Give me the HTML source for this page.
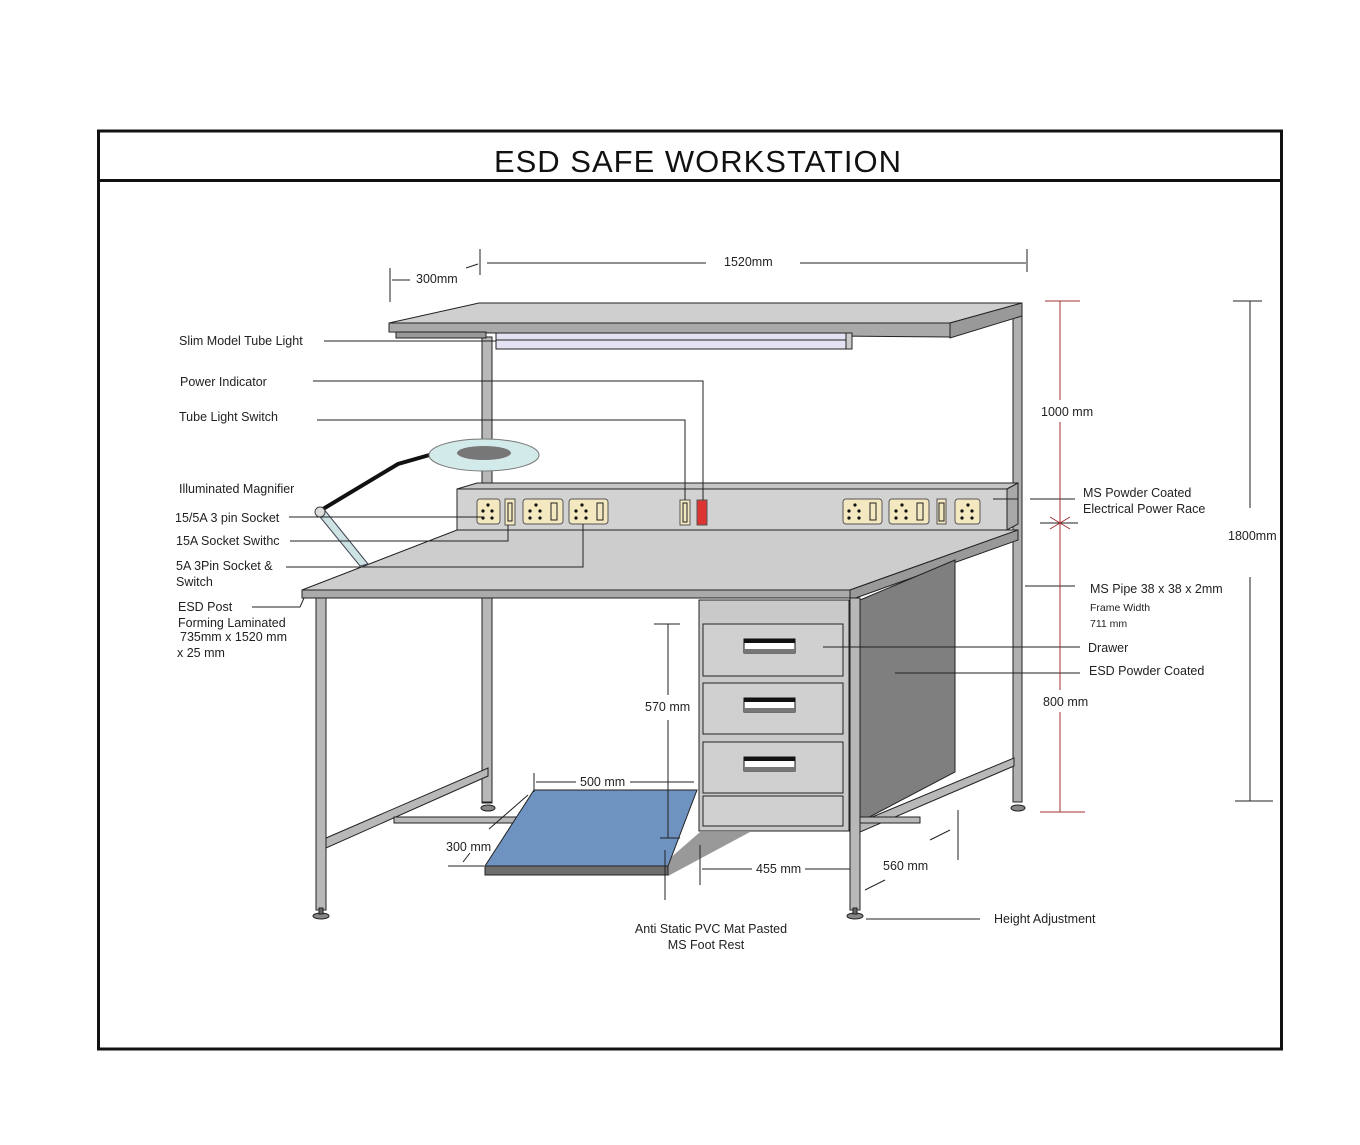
<!DOCTYPE html>
<html><head><meta charset="utf-8"><style>
html,body{margin:0;padding:0;background:#fff}
svg{display:block}
text{font-family:"Liberation Sans",Arial,sans-serif;font-size:12.5px;fill:#222}
</style></head><body>
<svg width="1360" height="1145" viewBox="0 0 1360 1145" xmlns="http://www.w3.org/2000/svg">
<rect x="0" y="0" width="1360" height="1145" fill="#fff"/>
<rect x="98.5" y="131" width="1183" height="918" fill="none" stroke="#111" stroke-width="3"/>
<line x1="97" y1="180.5" x2="1282" y2="180.5" stroke="#111" stroke-width="3"/>
<text x="698" y="172" text-anchor="middle" style="font-size:31px;fill:#111;letter-spacing:1px">ESD  SAFE  WORKSTATION</text>

<g stroke="#222" stroke-width="1">
<rect x="482" y="337" width="10" height="466" fill="#b8b8b8"/>
<rect x="1013" y="308" width="9" height="494" fill="#b0b0b0"/>
<polygon points="389,323 479,303 1022,303 950,323" fill="#cfcfcf"/>
<polygon points="389,323 950,323 950,337 389,332" fill="#a9a9a9"/>
<polygon points="950,323 1022,303 1022,316 950,338" fill="#999"/>
<rect x="396" y="332" width="90" height="6" fill="#999"/>
<rect x="496" y="333" width="356" height="16" fill="#e2e2f2"/>
<line x1="496" y1="340" x2="846" y2="340"/>
<rect x="846" y="333" width="6" height="16" fill="#ccc"/>

<polygon points="457,489 477,483 1018,483 1007,489" fill="#c6c6c6"/>
<rect x="457" y="489" width="550" height="41" fill="#d2d2d2"/>
<polygon points="1007,489 1018,483 1018,524 1007,530" fill="#a8a8a8"/>

<polygon points="302,590 457,530 1018,530 850,590" fill="#cdcdcd"/>
<rect x="302" y="590" width="548" height="8" fill="#aaa"/>
<polygon points="850,590 1018,530 1018,540 850,600" fill="#999"/>

<polygon points="860,600 955,560 955,772 860,822" fill="#7f7f7f"/>

<rect x="316" y="598" width="10" height="312" fill="#b8b8b8"/>
<rect x="850" y="598" width="10" height="312" fill="#b8b8b8"/>
<rect x="482" y="598" width="10" height="204" fill="#b8b8b8"/>
<polygon points="326,838 488,768 488,776 326,848" fill="#b8b8b8"/>
<rect x="394" y="817" width="130" height="6" fill="#b8b8b8"/>
<polygon points="860,822 1014,758 1014,766 860,832" fill="#b8b8b8"/>
<rect x="860" y="817" width="60" height="6" fill="#b8b8b8"/>
<ellipse cx="321" cy="916" rx="8" ry="3" fill="#888"/>
<ellipse cx="855" cy="916" rx="8" ry="3" fill="#888"/>
<ellipse cx="488" cy="808" rx="7" ry="3" fill="#888"/>
<ellipse cx="1018" cy="808" rx="7" ry="3" fill="#888"/>
<rect x="319" y="908" width="4" height="6" fill="#666"/>
<rect x="853" y="908" width="4" height="6" fill="#666"/>

<polygon points="668,876 750,832 700,832 668,860" fill="#999" stroke="none"/>
<polygon points="534,790 697,790 668,866 485,866" fill="#6f93c0"/>
<rect x="485" y="866" width="183" height="9" fill="#6e6e6e"/>

<rect x="699" y="600" width="150" height="231" fill="#c9c9c9"/>
<rect x="703" y="624" width="140" height="52" fill="#d0d0d0"/>
<rect x="703" y="683" width="140" height="51" fill="#d0d0d0"/>
<rect x="703" y="742" width="140" height="51" fill="#d0d0d0"/>
<rect x="703" y="796" width="140" height="30" fill="#d0d0d0"/>
</g>
<g>
<rect x="744" y="639" width="51" height="14" fill="#fff" stroke="#111"/><rect x="744" y="639" width="51" height="4" fill="#111"/><rect x="744" y="649" width="51" height="4" fill="#777"/>
<rect x="744" y="698" width="51" height="14" fill="#fff" stroke="#111"/><rect x="744" y="698" width="51" height="4" fill="#111"/><rect x="744" y="708" width="51" height="4" fill="#777"/>
<rect x="744" y="757" width="51" height="14" fill="#fff" stroke="#111"/><rect x="744" y="757" width="51" height="4" fill="#111"/><rect x="744" y="767" width="51" height="4" fill="#777"/>
</g>

<g stroke="#555" stroke-width="1" fill="#f3e8c0">
<rect x="477" y="499" width="23" height="25" rx="3"/>
<rect x="505" y="499" width="10" height="26"/>
<rect x="523" y="499" width="40" height="25" rx="3"/>
<rect x="569" y="499" width="39" height="25" rx="3"/>
<rect x="680" y="500" width="10" height="25"/>
<rect x="697" y="500" width="10" height="25" fill="#d33"/>
<rect x="843" y="499" width="39" height="25" rx="3"/>
<rect x="889" y="499" width="40" height="25" rx="3"/>
<rect x="937" y="499" width="9" height="25"/>
<rect x="955" y="499" width="25" height="25" rx="3"/>
</g>
<g fill="none" stroke="#222">
<rect x="508" y="503" width="4" height="18"/><rect x="551" y="503" width="6" height="17"/><rect x="597" y="503" width="6" height="17"/>
<rect x="683" y="503" width="4" height="19"/><rect x="870" y="503" width="6" height="17"/><rect x="917" y="503" width="6" height="17"/><rect x="939" y="503" width="5" height="18"/>
</g>
<g fill="#111">
<circle cx="488" cy="505" r="1.6"/><circle cx="483" cy="511" r="1.6"/><circle cx="492" cy="511" r="1.6"/><circle cx="483" cy="518" r="1.6"/><circle cx="492" cy="518" r="1.6"/>
<circle cx="536" cy="505" r="1.6"/><circle cx="530" cy="511" r="1.6"/><circle cx="540" cy="511" r="1.6"/><circle cx="530" cy="518" r="1.6"/><circle cx="540" cy="518" r="1.6"/>
<circle cx="582" cy="505" r="1.6"/><circle cx="576" cy="511" r="1.6"/><circle cx="586" cy="511" r="1.6"/><circle cx="576" cy="518" r="1.6"/><circle cx="586" cy="518" r="1.6"/>
<circle cx="855" cy="505" r="1.6"/><circle cx="849" cy="511" r="1.6"/><circle cx="859" cy="511" r="1.6"/><circle cx="849" cy="518" r="1.6"/><circle cx="859" cy="518" r="1.6"/>
<circle cx="902" cy="505" r="1.6"/><circle cx="896" cy="511" r="1.6"/><circle cx="906" cy="511" r="1.6"/><circle cx="896" cy="518" r="1.6"/><circle cx="906" cy="518" r="1.6"/>
<circle cx="968" cy="505" r="1.6"/><circle cx="962" cy="511" r="1.6"/><circle cx="972" cy="511" r="1.6"/><circle cx="962" cy="518" r="1.6"/><circle cx="972" cy="518" r="1.6"/>
</g>

<polygon points="316,512 323,508 368,564 360,566" fill="#cde3e3" stroke="#445"/>
<path d="M318,512 L398,464 L440,452" stroke="#111" stroke-width="4" fill="none"/>
<ellipse cx="484" cy="455" rx="55" ry="16" fill="#d3eaea" stroke="#777"/>
<ellipse cx="484" cy="453" rx="27" ry="7" fill="#777"/>
<circle cx="320" cy="512" r="5" fill="#ddd" stroke="#444"/>

<g stroke="#222" stroke-width="1" fill="none">
<polyline points="324,341 496,341"/>
<polyline points="313,381 703,381 703,500"/>
<polyline points="317,420 685,420 685,500"/>
<polyline points="289,517 483,517"/>
<polyline points="290,541 508,541 508,525"/>
<polyline points="286,567 583,567 583,524"/>
<polyline points="252,607 300,607 304,598"/>
<polyline points="993,499 1018,499"/>
<polyline points="1030,499 1075,499"/>
<polyline points="1025,586 1075,586"/>
<polyline points="823,647 1080,647"/>
<polyline points="895,673 1080,673"/>
<polyline points="866,919 980,919"/>
<polyline points="390,268 390,302"/><polyline points="392,280 410,280"/>
<polyline points="466,268 478,264"/>
<polyline points="480,249 480,275"/><polyline points="487,263 706,263"/><polyline points="800,263 1026,263"/><polyline points="1027,249 1027,272"/>
<polyline points="1233,301 1262,301"/><polyline points="1250,301 1250,508"/><polyline points="1250,577 1250,801"/><polyline points="1235,801 1273,801"/>
<polyline points="654,624 680,624"/><polyline points="668,624 668,695"/><polyline points="668,720 668,838"/><polyline points="660,838 680,838"/>
<polyline points="534,773 534,792"/><polyline points="536,782 576,782"/><polyline points="630,782 694,782"/>
<polyline points="489,829 528,795"/><polyline points="463,862 470,853"/><polyline points="448,866 484,866"/>
<polyline points="665,850 665,900"/>
<polyline points="700,845 700,885"/><polyline points="702,869 752,869"/><polyline points="805,869 850,869"/>
<polyline points="958,810 958,860"/><polyline points="930,840 950,830"/><polyline points="865,890 885,880"/>
</g>
<g stroke="#a03030" stroke-width="1" fill="none">
<polyline points="1045,301 1080,301"/><polyline points="1060,301 1060,400"/><polyline points="1060,422 1060,690"/><polyline points="1060,712 1060,812"/>
<polyline points="1040,812 1085,812"/>
<polyline points="1040,523 1078,523" stroke="#222"/><polyline points="1050,517 1070,529"/><polyline points="1050,529 1070,517"/>
</g>

<text x="179" y="345">Slim Model Tube Light</text>
<text x="180" y="386">Power Indicator</text>
<text x="179" y="421">Tube Light Switch</text>
<text x="179" y="493">Illuminated Magnifier</text>
<text x="175" y="522">15/5A 3 pin Socket</text>
<text x="176" y="545">15A Socket Swithc</text>
<text x="176" y="570">5A 3Pin Socket &amp;</text>
<text x="176" y="586">Switch</text>
<text x="178" y="611">ESD Post</text>
<text x="178" y="627">Forming Laminated</text>
<text x="180" y="641">735mm x 1520 mm</text>
<text x="177" y="657">x 25 mm</text>
<text x="416" y="283">300mm</text>
<text x="724" y="266">1520mm</text>
<text x="1041" y="416">1000 mm</text>
<text x="1083" y="497">MS Powder Coated</text>
<text x="1083" y="513">Electrical Power Race</text>
<text x="1228" y="540">1800mm</text>
<text x="1090" y="593">MS Pipe 38 x 38 x 2mm</text>
<text x="1090" y="611" style="font-size:10.5px">Frame Width</text>
<text x="1090" y="627" style="font-size:10.5px">711 mm</text>
<text x="1088" y="652">Drawer</text>
<text x="1089" y="675">ESD Powder Coated</text>
<text x="1043" y="706">800 mm</text>
<text x="645" y="711">570 mm</text>
<text x="580" y="786">500 mm</text>
<text x="446" y="851">300 mm</text>
<text x="756" y="873">455 mm</text>
<text x="883" y="870">560 mm</text>
<text x="994" y="923">Height Adjustment</text>
<text x="711" y="933" text-anchor="middle">Anti Static PVC Mat Pasted</text>
<text x="706" y="949" text-anchor="middle">MS Foot Rest</text>
</svg>
</body></html>
